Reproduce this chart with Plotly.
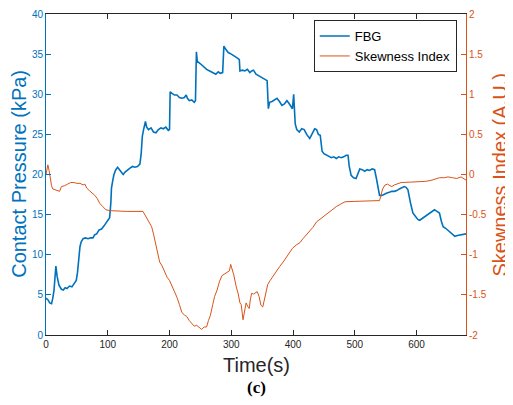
import plotly.graph_objects as go

# ---- data ----
fbg_t = [0, 3, 6, 9, 11, 13, 16, 18, 21, 25, 28, 31, 34, 38, 42, 46, 49, 51, 53, 55, 57, 60, 64, 68, 72, 76,
         79, 82, 86, 90, 94, 98, 101, 103, 105, 106, 108, 110, 113, 116, 119, 122, 125, 128, 132, 136, 140,
         144, 148, 152, 154, 156, 158, 161, 163, 166, 170, 174, 178, 182, 186, 190, 194, 198, 200, 201, 204,
         208, 212, 216, 220, 224, 227, 229, 232, 236, 240, 242, 243.5, 245, 250, 255, 260, 265, 270, 275, 279,
         282, 286, 288, 291, 295, 300, 305, 310, 313, 314, 318, 322, 326, 330, 333, 336, 340, 345, 350, 355,
         358, 360, 362, 366, 370, 374, 378, 382, 386, 390, 393, 396, 399, 401, 402, 403.5, 406, 410, 414, 418,
         422, 427, 431, 435, 438, 441, 444, 447, 450, 454, 458, 462, 466, 470, 474, 478, 482, 486, 489, 491,
         494, 498, 502, 505, 508, 512, 516, 520, 524, 528, 532, 535, 538, 540, 544, 548, 552, 556, 560, 564,
         568, 572, 576, 580, 583, 586, 590, 594, 598, 602, 605, 609, 613, 617, 621, 625, 629, 633, 637, 640,
         643, 647, 651, 655, 659, 662, 666, 670, 674, 678, 680]
fbg_kpa = [4.6, 4.4, 4.0, 3.9, 4.6, 5.6, 8.6, 7.3, 6.2, 5.7, 5.6, 5.9, 5.8, 6.1, 6.0, 6.4, 6.8, 7.8, 9.5, 11.0,
           11.6, 12.0, 12.1, 12.0, 12.1, 12.1, 12.5, 12.6, 13.1, 13.2, 13.6, 14.0, 14.3, 14.6, 16.5, 18.3, 19.2,
           20.0, 20.6, 20.9, 20.6, 20.3, 20.0, 20.3, 20.6, 20.8, 21.0, 20.9, 21.0, 21.3, 22.5, 24.8, 25.6, 26.6,
           25.9, 25.6, 25.8, 25.3, 25.2, 25.6, 25.8, 25.7, 25.9, 25.5, 25.6, 30.3, 30.1, 29.9, 29.9, 29.6, 29.5,
           29.6, 29.9, 29.5, 29.2, 29.3, 29.0, 29.2, 35.3, 34.1, 33.8, 33.4, 33.1, 32.9, 32.7, 32.5, 32.8, 32.6,
           32.7, 36.0, 35.6, 35.2, 35.0, 34.8, 34.5, 34.3, 32.9, 33.0, 32.9, 33.1, 32.7, 32.9, 33.0, 32.5, 32.3,
           32.0, 31.8, 31.7, 28.2, 29.0, 29.1, 29.3, 29.5, 29.1, 28.6, 28.8, 29.2, 28.9, 28.6, 28.2, 30.0, 28.0,
           26.3, 25.6, 25.3, 25.7, 25.6, 25.0, 24.5, 25.1, 25.7, 25.6, 25.0, 24.9, 22.9, 22.6, 22.4, 22.3, 22.1,
           22.2, 22.0, 22.2, 22.1, 22.2, 22.4, 22.4, 21.0, 19.9, 19.6, 19.5, 20.1, 20.7, 20.6, 20.4, 20.6, 20.5,
           20.7, 20.6, 19.5, 18.2, 17.4, 17.4, 17.6, 17.7, 17.8, 17.9, 17.9, 18.0, 18.2, 18.3, 18.5, 18.4, 18.1,
           16.5, 15.2, 14.8, 14.4, 14.3, 14.5, 14.8, 15.0, 15.2, 15.4, 15.6, 15.4, 15.2, 14.2, 13.5, 13.3, 13.0,
           12.8, 12.5, 12.3, 12.4, 12.45, 12.5, 12.6, 12.6]

skew_t = [0, 1.5, 3, 5, 7, 9, 11, 14, 18, 22, 25, 30, 35, 40, 45, 50, 55, 60, 63, 66, 70, 75, 79, 83, 87, 92,
          97, 103, 130, 157, 160, 163, 167, 171, 174, 177, 181, 184, 188, 192, 196, 200, 204, 208, 212, 216,
          220, 224, 228, 232, 236, 240, 244, 248, 252, 256, 260, 263, 266, 270, 273, 277, 281, 285, 289, 293,
          297, 299, 301, 304, 308, 311, 314, 316, 319, 321, 324, 327, 329, 331, 333, 336, 339, 342, 345, 348,
          351, 354, 356, 359, 363, 367, 372, 378, 384, 389, 394, 399, 405, 411, 416, 421, 427, 432, 438, 444,
          450, 455, 460, 465, 470, 477, 484, 500, 520, 540, 542, 545, 549, 553, 557, 560, 564, 568, 575, 590,
          600, 615, 625, 637, 645, 651, 658, 665, 672, 676, 680]
skew_idx = [0.0, 0.05, 0.12, 0.05, -0.05, -0.14, -0.18, -0.19, -0.2, -0.21, -0.15, -0.14, -0.12, -0.10, -0.10,
            -0.11, -0.11, -0.13, -0.12, -0.17, -0.20, -0.23, -0.26, -0.30, -0.36, -0.40, -0.44, -0.45, -0.46,
            -0.46, -0.50, -0.54, -0.58, -0.65, -0.74, -0.84, -0.98, -1.09, -1.14, -1.22, -1.28, -1.32, -1.39,
            -1.45, -1.53, -1.62, -1.72, -1.75, -1.77, -1.82, -1.86, -1.89, -1.88, -1.90, -1.93, -1.90, -1.90,
            -1.82, -1.76, -1.62, -1.52, -1.44, -1.33, -1.26, -1.24, -1.22, -1.20, -1.12, -1.17, -1.25, -1.40,
            -1.48, -1.60, -1.62, -1.81, -1.72, -1.60, -1.65, -1.67, -1.55, -1.48, -1.49, -1.47, -1.46, -1.52,
            -1.63, -1.65, -1.54, -1.48, -1.37, -1.32, -1.27, -1.22, -1.15, -1.09, -1.03, -0.97, -0.92, -0.88,
            -0.85, -0.80, -0.76, -0.71, -0.66, -0.59, -0.55, -0.52, -0.49, -0.46, -0.42, -0.40, -0.37, -0.34,
            -0.335, -0.33, -0.325, -0.27, -0.18, -0.13, -0.12, -0.14, -0.15, -0.13, -0.12, -0.10, -0.095, -0.09,
            -0.085, -0.07, -0.04, -0.04, -0.03, -0.04, -0.05, -0.03, -0.05, -0.07]

x_ticks = [0, 100, 200, 300, 400, 500, 600]
y_ticks = [0, 5, 10, 15, 20, 25, 30, 35, 40]
y2_ticks = [-2, -1.5, -1, -0.5, 0, 0.5, 1, 1.5, 2]
y2_tick_labels = ["-2", "-1.5", "-1", "-0.5", "0", "0.5", "1", "1.5", "2"]

BLUE = "#0072BD"
ORANGE = "#D95319"
FONT = "Liberation Sans, Arial, Helvetica, sans-serif"

fig = go.Figure()
fig.add_trace(go.Scatter(x=fbg_t, y=fbg_kpa, mode="lines", name="FBG",
                         line=dict(color=BLUE, width=1.6)))
fig.add_trace(go.Scatter(x=skew_t, y=skew_idx, mode="lines", name="Skewness Index",
                         line=dict(color=ORANGE, width=1), yaxis="y2"))

# page body has an 8px default margin, so the figure is 8px smaller than the window
fig.update_layout(
    width=505, height=397,
    margin=dict(l=38, r=47, t=6, b=70, autoexpand=False),
    paper_bgcolor="white", plot_bgcolor="white",
    font=dict(family=FONT, size=10, color="#262626"),
    showlegend=True,
    legend=dict(x=0.978, y=0.981, xanchor="right", yanchor="top",
                bgcolor="white", bordercolor="#262626", borderwidth=1,
                font=dict(family=FONT, size=13, color="black"),
                itemwidth=30, tracegroupgap=0),
    xaxis=dict(range=[0, 680], tickvals=x_ticks, ticks="inside", ticklen=5,
               tickcolor="#262626", showline=True, linecolor="#262626", linewidth=1,
               mirror="ticks", showgrid=False, zeroline=False, automargin=False,
               tickfont=dict(size=10, color="#262626")),
    yaxis=dict(range=[0, 40], tickvals=y_ticks, ticks="inside", ticklen=5,
               tickcolor=BLUE, showline=True, linecolor=BLUE, linewidth=1, automargin=False,
               showgrid=False, zeroline=False, tickfont=dict(size=10, color=BLUE)),
    yaxis2=dict(range=[-2, 2], tickvals=y2_ticks, ticktext=y2_tick_labels, overlaying="y",
                side="right", ticks="inside", ticklen=5, tickcolor=ORANGE, automargin=False,
                showline=True, linecolor=ORANGE, linewidth=1, showgrid=False,
                zeroline=False, tickfont=dict(size=10, color=ORANGE)),
    annotations=[
        dict(text="Contact Pressure (kPa)", xref="paper", yref="paper", x=-0.066, y=0.503,
             xanchor="center", yanchor="middle",
             textangle=-90, showarrow=False, font=dict(family=FONT, size=20, color=BLUE)),
        dict(text="Skewness Index (A.U.)", xref="paper", yref="paper", x=1.082, y=0.498,
             xanchor="center", yanchor="middle",
             textangle=-90, showarrow=False, font=dict(family=FONT, size=20, color=ORANGE)),
        dict(text="Time(s)", xref="paper", yref="paper", x=0.5, y=-0.0935,
             xanchor="center", yanchor="middle",
             showarrow=False, font=dict(family=FONT, size=20, color="#262626")),
        dict(text="<b>(c)</b>", xref="paper", yref="paper", x=0.5, y=-0.165,
             xanchor="center", yanchor="middle",
             showarrow=False, font=dict(family="Liberation Serif, Times New Roman, serif",
                                        size=17, color="black")),
    ],
)

fig.write_html("out.html")
